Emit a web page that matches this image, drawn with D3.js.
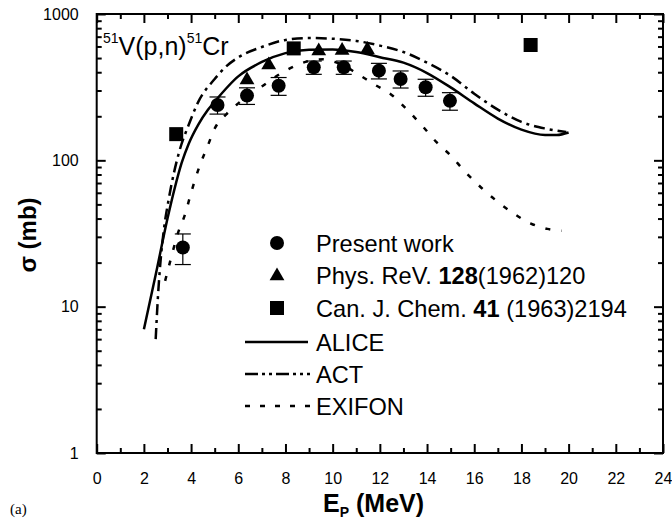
<!DOCTYPE html>
<html>
<head>
<meta charset="utf-8">
<script src="https://cdn.jsdelivr.net/npm/d3@7"></script>
<style>
  html, body { margin: 0; padding: 0; background: #fff; }
  svg { display: block; }
  text { font-family: "Liberation Sans", Arial, Helvetica, sans-serif; fill: #000; }
</style>
</head>
<body>
<svg id="chart" width="672" height="519"></svg>
<script>
// ---------------- data ----------------
const xTicks = [0, 2, 4, 6, 8, 10, 12, 14, 16, 18, 20, 22, 24];
const yTicks = [1, 10, 100, 1000];
const yTickLabels = ["1", "10", "100", "1000"];

// Present work (circles) with errors
const presentE   = [3.65, 5.12, 6.37, 7.71, 9.2, 10.47, 11.96, 12.88, 13.94, 14.97];
const presentSig = [25.4, 239, 277, 323, 432, 432, 410, 360, 316, 255];
const presentErr = [6, 32, 36, 45, 45, 45, 50, 48, 42, 35];

// Phys. ReV. 128(1962)120 (triangles)
const physE   = [6.37, 7.29, 9.41, 10.4, 11.47];
const physSig = [360, 455, 568, 572, 580];

// Can. J. Chem. 41 (1963)2194 (squares)
const canE   = [3.37, 8.35, 18.39];
const canSig = [151, 582, 614];

// ALICE (solid)
const aliceE   = [2.0, 2.5, 3.0, 3.3, 3.6, 3.9, 4.3, 4.7, 5.0, 6.0, 7.0, 8.0, 9.0, 10.0, 11.0, 12.0, 13.0, 14.0, 15.0, 16.0, 17.0, 18.0, 19.0, 19.5, 20.0];
const aliceSig = [7, 16.5, 40, 64, 96, 130, 175, 220, 252, 375, 470, 540, 570, 572, 550, 507, 465, 395, 315, 245, 193, 162, 149, 149, 155];

// ACT (dash-dot)
const actE   = [2.5, 2.6, 2.7, 2.85, 3.05, 3.5, 3.9, 4.3, 5.0, 5.5, 6.0, 7.0, 8.0, 9.0, 10.0, 11.0, 12.0, 13.0, 14.0, 15.0, 16.0, 17.0, 18.0, 19.0, 19.9];
const actSig = [6, 12, 20, 34, 54, 115, 175, 250, 360, 440, 505, 595, 665, 685, 678, 655, 608, 550, 465, 378, 285, 222, 183, 165, 156];

// EXIFON (short dashes)
const exiE   = [2.9, 3.1, 3.45, 3.75, 4.0, 4.4, 4.7, 5.0, 5.5, 6.0, 7.0, 8.0, 9.0, 9.6, 10.0, 10.5, 11.0, 11.8, 12.5, 13.2, 13.8, 14.4, 15.0, 15.6, 16.3, 17.0, 17.7, 18.4, 19.1, 19.7];
const exiSig = [15, 20, 32, 43, 60, 95, 125, 165, 207, 245, 320, 410, 478, 490, 475, 442, 395, 328, 280, 218, 172, 133, 108, 84, 65, 52, 43, 37, 34, 33];

// legend
const legendLabels = ["Present work", "Phys. ReV. |128|(1962)120", "Can. J. Chem. |41| (1963)2194", "ALICE", "ACT", "EXIFON"];

// ---------------- layout ----------------
const svg = d3.select("#chart");
const L = 96.7, R = 663, T = 14, B = 453;

const x = d3.scaleLinear().domain([0, 24]).range([L, R]);
const y = d3.scaleLog().domain([1, 1000]).range([B, T]);

const g = svg.append("g");

// frame
g.append("rect").attr("x", L).attr("y", T).attr("width", R - L).attr("height", B - T)
  .attr("fill", "none").attr("stroke", "#000").attr("stroke-width", 2);

// x ticks (bottom, inward) with labels
const xMinor = d3.range(1, 24, 2);
const xAxisB = d3.axisBottom(x).tickValues(xTicks).tickSize(-9).tickPadding(20).tickFormat(d3.format("d"));
const gxb = g.append("g").attr("transform", `translate(0,${B})`).call(xAxisB);
gxb.select(".domain").remove();
gxb.selectAll(".tick line").attr("stroke-width", 2);
gxb.selectAll(".tick text").attr("font-size", 16).attr("fill", "#000").attr("font-family", "Liberation Sans, Arial, sans-serif");
const xAxisBm = d3.axisBottom(x).tickValues(xMinor).tickSize(-5).tickFormat("");
const gxbm = g.append("g").attr("transform", `translate(0,${B})`).call(xAxisBm);
gxbm.select(".domain").remove();
gxbm.selectAll(".tick line").attr("stroke-width", 2);

// top ticks (inward)
const gxt = g.append("g").attr("transform", `translate(0,${T})`).call(d3.axisTop(x).tickValues(xTicks).tickSize(-9).tickFormat(""));
gxt.select(".domain").remove();
gxt.selectAll(".tick line").attr("stroke-width", 2);
const gxtm = g.append("g").attr("transform", `translate(0,${T})`).call(d3.axisTop(x).tickValues(xMinor).tickSize(-5).tickFormat(""));
gxtm.select(".domain").remove();
gxtm.selectAll(".tick line").attr("stroke-width", 2);

// y ticks
const yMinor = [];
[1, 10, 100].forEach(d => { for (let k = 2; k <= 9; k++) yMinor.push(d * k); });
const gyl = g.append("g").attr("transform", `translate(${L},0)`)
  .call(d3.axisLeft(y).tickValues(yTicks).tickSize(-9).tickPadding(18).tickFormat((d, i) => yTickLabels[i]));
gyl.select(".domain").remove();
gyl.selectAll(".tick line").attr("stroke-width", 2);
gyl.selectAll(".tick text").attr("font-size", 16).attr("fill", "#000").attr("font-family", "Liberation Sans, Arial, sans-serif");
const gylm = g.append("g").attr("transform", `translate(${L},0)`)
  .call(d3.axisLeft(y).tickValues(yMinor).tickSize(-5).tickFormat(""));
gylm.select(".domain").remove();
gylm.selectAll(".tick line").attr("stroke-width", 2);

const gyr = g.append("g").attr("transform", `translate(${R},0)`)
  .call(d3.axisRight(y).tickValues(yTicks).tickSize(-9).tickFormat(""));
gyr.select(".domain").remove();
gyr.selectAll(".tick line").attr("stroke-width", 2);
const gyrm = g.append("g").attr("transform", `translate(${R},0)`)
  .call(d3.axisRight(y).tickValues(yMinor).tickSize(-5).tickFormat(""));
gyrm.select(".domain").remove();
gyrm.selectAll(".tick line").attr("stroke-width", 2);

// ---------------- curves ----------------
const line = d3.line().x(d => x(d[0])).y(d => y(d[1])).curve(d3.curveMonotoneX);
const zip = (a, b) => a.map((v, i) => [v, b[i]]);

g.append("path").datum(zip(aliceE, aliceSig)).attr("d", line)
  .attr("fill", "none").attr("stroke", "#000").attr("stroke-width", 2.5);
g.append("path").datum(zip(actE, actSig)).attr("d", line)
  .attr("fill", "none").attr("stroke", "#000").attr("stroke-width", 2.5)
  .attr("stroke-dasharray", "11,5,3,5");
g.append("path").datum(zip(exiE, exiSig)).attr("d", line)
  .attr("fill", "none").attr("stroke", "#000").attr("stroke-width", 2.5)
  .attr("stroke-dasharray", "5,11");

// ---------------- points ----------------
const pres = zip(presentE, presentSig).map((d, i) => ({ e: d[0], s: d[1], err: presentErr[i] }));
const eb = g.append("g").attr("stroke", "#000").attr("stroke-width", 1.2);
eb.selectAll("line.v").data(pres).join("line")
  .attr("x1", d => x(d.e)).attr("x2", d => x(d.e))
  .attr("y1", d => y(d.s + d.err)).attr("y2", d => y(d.s - d.err));
eb.selectAll("line.t").data(pres).join("line").attr("class", "t")
  .attr("x1", d => x(d.e) - 8).attr("x2", d => x(d.e) + 8)
  .attr("y1", d => y(d.s + d.err)).attr("y2", d => y(d.s + d.err));
eb.selectAll("line.b").data(pres).join("line").attr("class", "b")
  .attr("x1", d => x(d.e) - 8).attr("x2", d => x(d.e) + 8)
  .attr("y1", d => y(d.s - d.err)).attr("y2", d => y(d.s - d.err));

g.append("g").selectAll("circle").data(pres).join("circle")
  .attr("cx", d => x(d.e)).attr("cy", d => y(d.s)).attr("r", 7).attr("fill", "#000");

const triSym = d3.symbol().type(d3.symbolTriangle).size(95);
g.append("g").selectAll("path").data(zip(physE, physSig)).join("path")
  .attr("d", triSym).attr("transform", d => `translate(${x(d[0])},${y(d[1]) + 1})`).attr("fill", "#000");

g.append("g").selectAll("rect").data(zip(canE, canSig)).join("rect")
  .attr("x", d => x(d[0]) - 7).attr("y", d => y(d[1]) - 7).attr("width", 14).attr("height", 14).attr("fill", "#000");

// ---------------- legend ----------------
const lg = g.append("g");
const rowY = [243, 275, 308, 342, 374, 406];
const mx = 277, tx = 316;
lg.append("circle").attr("cx", mx).attr("cy", rowY[0]).attr("r", 7).attr("fill", "#000");
lg.append("path").attr("d", triSym).attr("transform", `translate(${mx},${rowY[1] + 1})`).attr("fill", "#000");
lg.append("rect").attr("x", mx - 7).attr("y", rowY[2] - 7).attr("width", 14).attr("height", 14).attr("fill", "#000");
lg.append("line").attr("x1", 245).attr("x2", 308).attr("y1", rowY[3]).attr("y2", rowY[3]).attr("stroke", "#000").attr("stroke-width", 2.5);
lg.append("line").attr("x1", 245).attr("x2", 310).attr("y1", rowY[4]).attr("y2", rowY[4]).attr("stroke", "#000").attr("stroke-width", 2.5).attr("stroke-dasharray", "13,4,3,4,3,4");
lg.append("line").attr("x1", 245).attr("x2", 310).attr("y1", rowY[5]).attr("y2", rowY[5]).attr("stroke", "#000").attr("stroke-width", 2.5).attr("stroke-dasharray", "5,10");

legendLabels.forEach((lab, i) => {
  const t = lg.append("text").attr("x", tx).attr("y", rowY[i] + 8.5).attr("font-size", 23.6);
  lab.split("|").forEach((part, j) => {
    t.append("tspan").text(part).attr("font-weight", j === 1 ? "bold" : "normal");
  });
});

// ---------------- titles ----------------
const title = g.append("text").attr("x", 103).attr("y", 55).attr("font-size", 25);
title.append("tspan").attr("font-size", 14).attr("dy", -12).text("51");
title.append("tspan").attr("dy", 12).text("V(p,n)");
title.append("tspan").attr("font-size", 14).attr("dy", -12).text("51");
title.append("tspan").attr("dy", 12).text("Cr");

const xl = g.append("text").attr("x", 323).attr("y", 512).attr("font-size", 25).attr("font-weight", "bold");
xl.append("tspan").text("E");
xl.append("tspan").attr("font-size", 14).attr("dy", 5).text("P");
xl.append("tspan").attr("dy", -5).text(" (MeV)");

g.append("text").attr("transform", "translate(36,235) rotate(-90)").attr("text-anchor", "middle")
  .attr("font-size", 24).attr("font-weight", "bold").text("σ (mb)");

g.append("text").attr("x", 10).attr("y", 514).attr("font-size", 15)
  .style("font-family", "'Liberation Serif', 'Times New Roman', serif").text("(a)");
</script>
</body>
</html>
